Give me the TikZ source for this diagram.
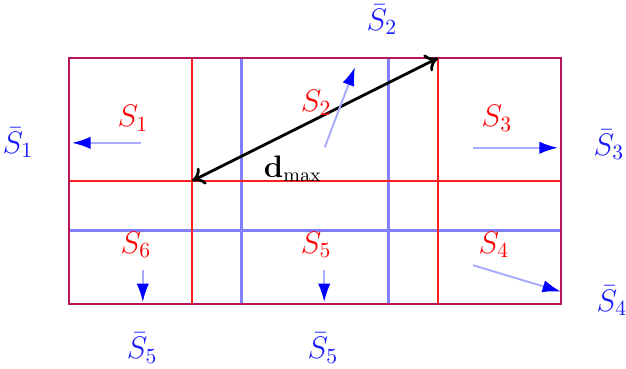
\documentclass[tikz,border=0pt]{standalone}
\usetikzlibrary{arrows.meta}
\definecolor{border}{RGB}{185,20,90}
\definecolor{redline}{RGB}{255,30,30}
\definecolor{blueline}{RGB}{128,128,255}
\definecolor{arrowline}{RGB}{170,170,255}
\definecolor{bluetext}{RGB}{25,25,255}
\begin{document}
\begin{tikzpicture}[
  redgrid/.style={draw=redline, line width=1.3pt},
  bluegrid/.style={draw=blueline, line width=1.3pt},
  outer/.style={draw=border, line width=1.3pt},
  flow/.style={draw=arrowline, line width=0.9pt, -{Latex[color=blue,length=3mm,width=2mm]}},
  slabel/.style={text=red, font=\Large},
  blabel/.style={text=bluetext, font=\Large},
  dist/.style={line width=1.3pt, black, {To[length=2mm,width=3mm]}-{To[length=2mm,width=3mm]}}
]
\useasboundingbox (-1.122,-1.057) rectangle (9.057,4.943);
% blue grid lines
\draw[bluegrid] (2.8,0) -- (2.8,4);
\draw[bluegrid] (5.2,0) -- (5.2,4);
\draw[bluegrid] (0,1.2) -- (8,1.2);
% red grid lines
\draw[redgrid] (2,0) -- (2,4);
\draw[redgrid] (6,0) -- (6,4);
\draw[redgrid] (0,2) -- (8,2);
% outer border
\draw[outer] (0,0) rectangle (8,4);
% corner coordinates for d_max
\coordinate (p1) at (2,2);
\coordinate (p2) at (6,4);
\draw[dist] (p1) -- (p2);
\node[font=\fontsize{13.4}{16}\selectfont] (dmax) at (3.64,2.2) {$\mathbf{d}_{\max}$};
% region labels
\node[slabel] (s1) at (1.04,3.02) {$S_1$};
\node[slabel] (s2) at (4.02,3.27) {$S_2$};
\node[slabel] (s3) at (6.96,3.02) {$S_3$};
\node[slabel] (s4) at (6.91,0.96) {$S_4$};
\node[slabel] (s5) at (4.02,0.96) {$S_5$};
\node[slabel] (s6) at (1.09,0.96) {$S_6$};
% boundary labels
\node[blabel] (b1) at (-0.83,2.62) {$\bar S_1$};
\node[blabel] (b2) at (5.09,4.62) {$\bar S_2$};
\node[blabel] (b3) at (8.78,2.59) {$\bar S_3$};
\node[blabel] (b4) at (8.83,0.05) {$\bar S_4$};
\node[blabel] (b5a) at (1.19,-0.72) {$\bar S_5$};
\node[blabel] (b5b) at (4.13,-0.72) {$\bar S_5$};
% flow arrows
\coordinate (a1s) at (1.17,2.62); \coordinate (a1e) at (0.05,2.62);
\coordinate (a2s) at (4.16,2.55); \coordinate (a2e) at (4.65,3.85);
\coordinate (a3s) at (6.57,2.54); \coordinate (a3e) at (7.95,2.54);
\coordinate (a4s) at (6.57,0.63); \coordinate (a4e) at (8.0,0.2);
\coordinate (a6s) at (1.2,0.55); \coordinate (a6e) at (1.2,0.03);
\coordinate (a5s) at (4.15,0.55); \coordinate (a5e) at (4.15,0.03);
\draw[flow] (a1s) -- (a1e);
\draw[flow] (a2s) -- (a2e);
\draw[flow] (a3s) -- (a3e);
\draw[flow] (a4s) -- (a4e);
\draw[flow] (a6s) -- (a6e);
\draw[flow] (a5s) -- (a5e);
\end{tikzpicture}
\end{document}
